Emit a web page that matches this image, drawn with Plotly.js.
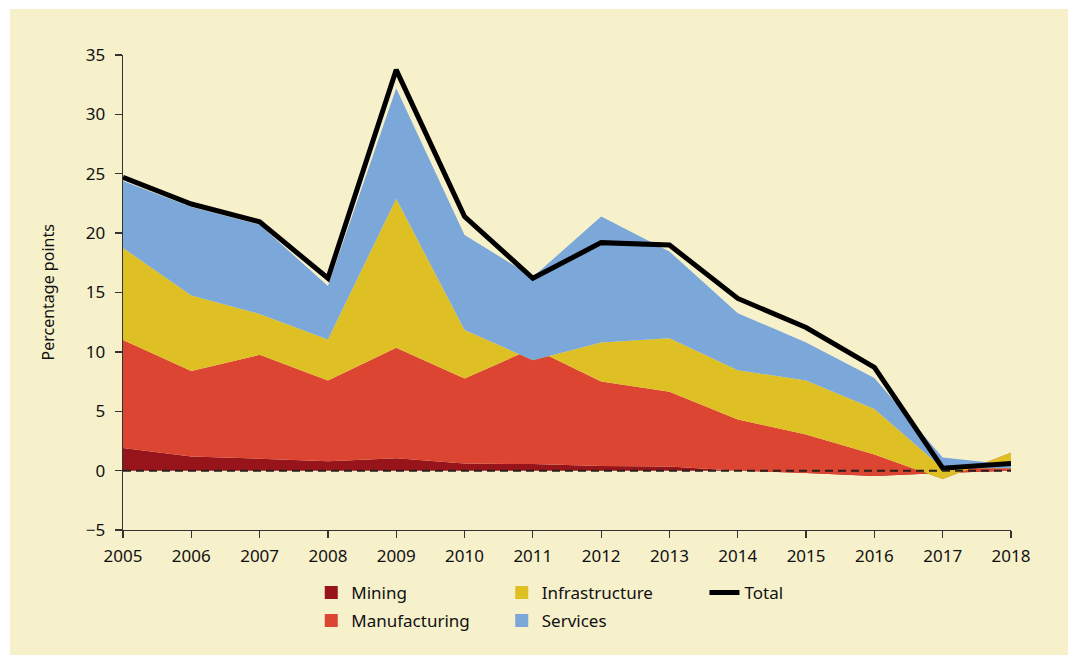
<!DOCTYPE html>
<html>
<head>
<meta charset="utf-8">
<script src="https://cdn.plot.ly/plotly-3.0.1.min.js"></script>
<style>
  html, body { margin: 0; padding: 0; background: #ffffff; }
  #chart { position: absolute; left: 10px; top: 9px; width: 1058px; height: 646px; }
</style>
</head>
<body>
<div id="chart"></div>
<script>
// ---- Data (percentage points) ----
var years = [2005, 2006, 2007, 2008, 2009, 2010, 2011, 2012, 2013, 2014, 2015, 2016, 2017, 2018];
var mining         = [1.9, 1.2, 1.0, 0.8, 1.05, 0.6, 0.55, 0.4, 0.35, 0.0, -0.2, -0.45, -0.2, 0.0];
var manufacturing  = [9.1, 7.2, 8.75, 6.8, 9.3, 7.15, 9.75, 7.1, 6.3, 4.3, 3.25, 1.8, -0.5, 1.5];
var infrastructure = [7.75, 6.35, 3.45, 3.45, 12.55, 4.1, -1.0, 3.3, 4.5, 4.15, 4.55, 3.85, 0.9, -1.3];
var services       = [5.65, 7.45, 7.5, 4.5, 9.3, 8.0, 7.0, 10.6, 7.3, 4.8, 3.2, 2.6, 0.9, 0.3];
var total          = [24.7, 22.45, 20.95, 16.2, 33.75, 21.4, 16.2, 19.2, 19.0, 14.5, 12.05, 8.7, 0.2, 0.6];

var seriesNames = ["Mining", "Manufacturing", "Infrastructure", "Services", "Total"];
var colors = { Mining: "#98141b", Manufacturing: "#db4531", Infrastructure: "#dfc024", Services: "#7ba7d9", Total: "#000000" };
var xTickLabels = ["2005","2006","2007","2008","2009","2010","2011","2012","2013","2014","2015","2016","2017","2018"];

var FONT = "'Noto Sans', 'Open Sans', sans-serif";
var TXT = "#111111";

function area(name, vals) {
  return {
    type: "scatter", mode: "lines", x: years, y: vals, name: name,
    stackgroup: "one", fill: "tonexty",
    line: { width: 0, color: colors[name] }, fillcolor: colors[name],
    showlegend: false, hoverinfo: "x+y+name"
  };
}

var traces = [
  area("Mining", mining),
  area("Manufacturing", manufacturing),
  area("Infrastructure", infrastructure),
  area("Services", services),
  { type: "scatter", mode: "lines", x: years, y: total, name: "Total",
    line: { color: colors.Total, width: 5 }, showlegend: false }
];

// legend-only entries
function legendSquare(name, legendId) {
  return { type: "scatter", mode: "markers", x: [null], y: [null], name: name,
    marker: { symbol: "square", size: 13, color: colors[name] },
    showlegend: true, legend: legendId, hoverinfo: "skip" };
}
traces.push(legendSquare("Mining", "legend"));
traces.push(legendSquare("Manufacturing", "legend2"));
traces.push(legendSquare("Infrastructure", "legend3"));
traces.push(legendSquare("Services", "legend4"));
traces.push({ type: "scatter", mode: "lines", x: [null], y: [null], name: "Total",
  line: { color: "#000", width: 5 }, showlegend: true, legend: "legend5", hoverinfo: "skip" });

function leg(x, y) {
  return { x: x, y: y, xanchor: "left", yanchor: "middle", orientation: "v",
    bgcolor: "rgba(0,0,0,0)", borderwidth: 0,
    font: { family: FONT, size: 17, color: TXT } };
}

var layout = {
  width: 1058, height: 646,
  margin: { l: 113, r: 57, t: 46, b: 125 },
  paper_bgcolor: "#f6f0cb",
  plot_bgcolor: "rgba(0,0,0,0)",
  font: { family: FONT, size: 16, color: TXT },
  xaxis: {
    range: [2005, 2018], tickmode: "array", tickvals: years, ticktext: xTickLabels,
    showgrid: false, zeroline: false, showline: true, linecolor: "#333", linewidth: 1.3,
    ticks: "outside", ticklen: 7, tickwidth: 1.3, tickcolor: "#333",
    ticklabelstandoff: 3,
    tickfont: { family: FONT, size: 17, color: TXT }
  },
  yaxis: {
    range: [-5, 35], dtick: 5, tick0: 0,
    showgrid: false, zeroline: false, showline: true, linecolor: "#333", linewidth: 1.3,
    ticks: "outside", ticklen: 7, tickwidth: 1.3, tickcolor: "#333",
    ticklabelstandoff: 6,
    tickfont: { family: FONT, size: 17, color: TXT }
  },
  shapes: [
    { type: "line", xref: "x", yref: "y", x0: 2005, x1: 2018, y0: 0, y1: 0, layer: "above",
      line: { color: "#2a1d1a", width: 2, dash: "8px,5px" } }
  ],
  annotations: [
    { text: "Percentage points", xref: "paper", yref: "paper", x: 0, y: 0.5,
      xanchor: "center", yanchor: "middle", xshift: -76, textangle: -90, showarrow: false,
      font: { family: FONT, size: 16, color: TXT } }
  ],
  legend:  leg(0.212, -0.1326),
  legend2: leg(0.212, -0.1916),
  legend3: leg(0.4265, -0.1326),
  legend4: leg(0.4265, -0.1916),
  legend5: leg(0.6548, -0.1326),
  hovermode: false
};

Plotly.newPlot("chart", traces, layout, { displayModeBar: false, staticPlot: true });
</script>
</body>
</html>
